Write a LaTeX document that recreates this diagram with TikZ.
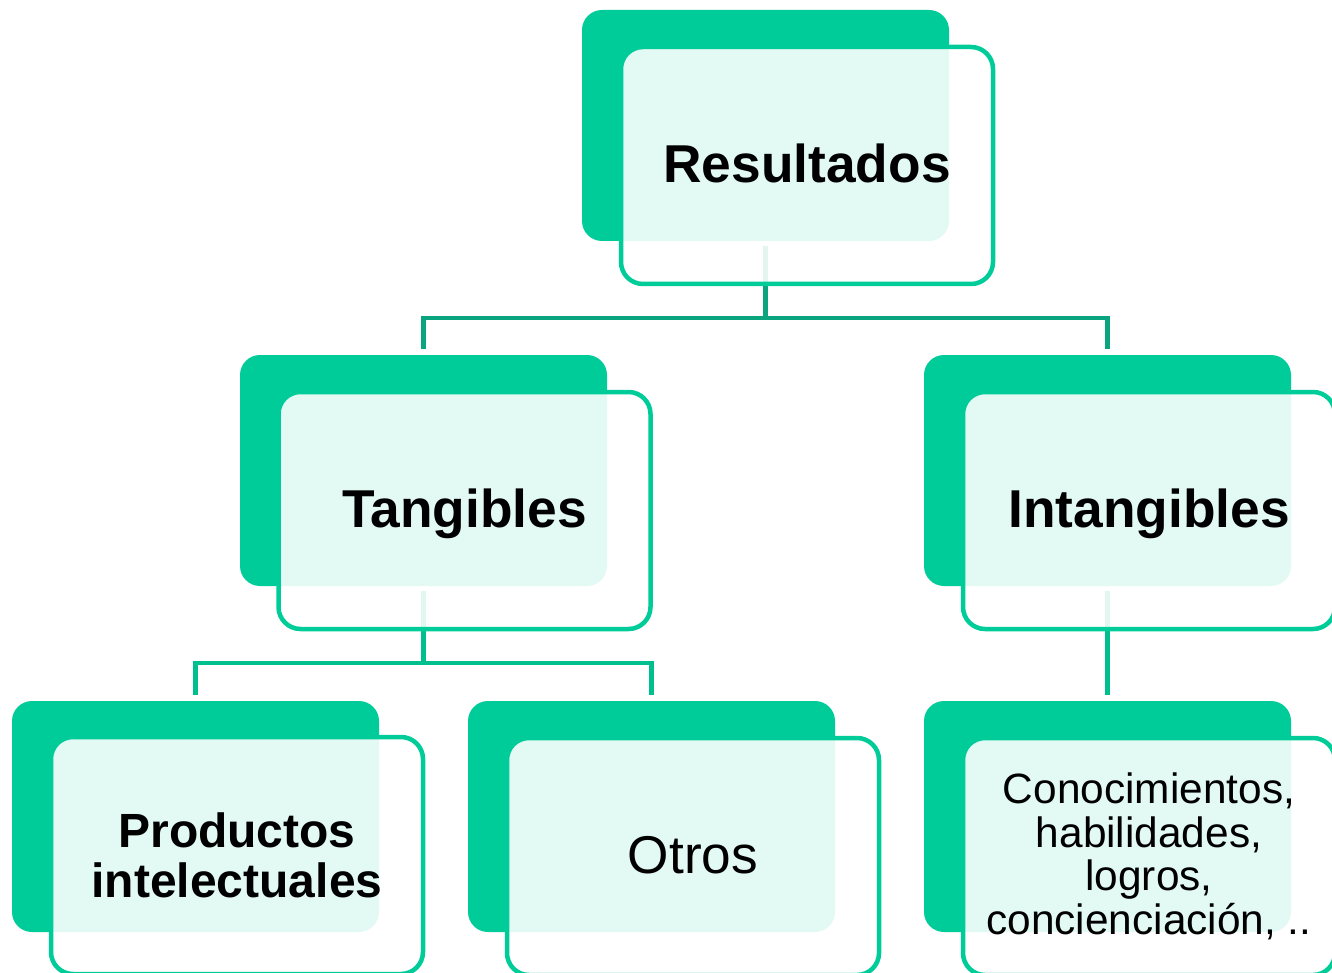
\documentclass[tikz,border=0pt]{standalone}
\usepackage{fontspec}
\setmainfont{Liberation Sans}
\definecolor{boxgreen}{HTML}{00CC99}
\definecolor{connA}{HTML}{0AA57E}
\definecolor{connB}{HTML}{00BF8F}
\pgfdeclarelayer{bg}
\pgfsetlayers{bg,main}
\tikzset{
  backbox/.style={draw=none, fill=boxgreen, rounded corners=20pt, inner sep=0pt,
    minimum width=367pt, minimum height=231pt},
  frontbox/.style={draw=boxgreen, line width=4.5pt, fill=white, fill opacity=0.89,
    text opacity=1, rounded corners=22pt, inner sep=0pt, align=center,
    minimum width=372pt, minimum height=237pt},
  big/.style={font=\fontsize{53.3}{55}\selectfont\bfseries, text height=40pt, text depth=6pt},
  plainbig/.style={font=\fontsize{53.2}{55}\selectfont, text height=40pt, text depth=6pt},
  prodtext/.style={font=\fontsize{48}{50}\selectfont\bfseries},
  smalltext/.style={font=\fontsize{42.4}{43.6}\selectfont},
  linkA/.style={draw=connA, line width=4.5pt},
  linkB/.style={draw=connB, line width=4.5pt}
}
\begin{document}
\begin{tikzpicture}[x=1pt, y=-1pt]
\useasboundingbox (0,0) rectangle (1332,973);
\clip (0,0) rectangle (1332,973);
% Resultados
\node[backbox] (rb) at (765.5,125.5) {};
\node[frontbox, big] (rf) at (807,165.5) {Resultados};
% Tangibles
\node[backbox] (tb) at (423.5,470.5) {};
\node[frontbox, big] (tf) at (464.5,510.5) {Tangibles};
% Intangibles
\node[backbox] (ib) at (1107.5,470.5) {};
\node[frontbox, big] (if) at (1149,510.5) {Intangibles};
% Productos intelectuales
\node[backbox] (pb) at (195.5,816.5) {};
\node[frontbox, prodtext] (pf) at (237,855.5) {Productos\\intelectuales};
% Otros
\node[backbox] (ob) at (651.5,816.5) {};
\node[frontbox, plainbig] (of) at (693,856.5) {Otros};
% Conocimientos
\node[backbox] (cb) at (1107.5,816.5) {};
\node[frontbox, smalltext] (cf) at (1149,856.5) {Conocimientos,\\habilidades,\\logros,\\concienciación, ..};
% connectors
\coordinate (hA) at (0,318);
\coordinate (hB) at (0,663);
\begin{pgfonlayer}{bg}
\draw[linkA] ([yshift=-5pt]rb.south) -- (rb.south |- hA) -| ([yshift=6pt]tb.north);
\draw[linkA] (rb.south |- hA) -| ([yshift=6pt]ib.north);
\draw[linkB] ([yshift=-5pt]tb.south) -- (tb.south |- hB) -| ([yshift=6pt]pb.north);
\draw[linkB] (tb.south |- hB) -| ([yshift=6pt]ob.north);
\draw[linkB] ([yshift=-5pt]ib.south) -- ([yshift=6pt]cb.north);
\end{pgfonlayer}
\end{tikzpicture}
\end{document}
